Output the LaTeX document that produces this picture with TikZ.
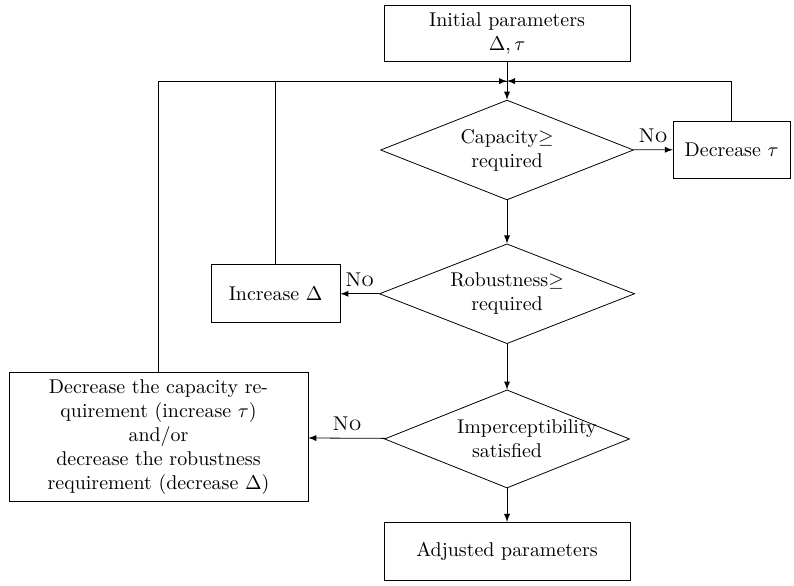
\documentclass[tikz,border=0pt]{standalone}
\usepackage{amsmath}
\usepackage{amssymb}
\usepackage{tikz}
\usetikzlibrary{shapes.geometric}

\begin{document}
\begin{tikzpicture}[
    box/.style={draw, align=center, inner sep=2pt},
    test/.style={draw, diamond, aspect=2.5, inner sep=0pt},
    flow/.style={-latex}
  ]
  \useasboundingbox (0,0) rectangle (14.0,-10.315);
  % main chain
  \node[box, minimum width=4.34cm, minimum height=1.0cm] (init) at (8.94,-0.59) {Initial parameters\\ $\Delta,\tau$};
  \node[test, minimum width=4.46cm, minimum height=1.76cm,
    label={[align=center]center:Capacity$\geq$\\ required}] (capok) at (8.94,-2.645) {};
  \node[test, minimum width=4.50cm, minimum height=1.76cm,
    label={[align=center]center:Robustness$\geq$\\ required}] (robok) at (8.94,-5.18) {};
  \node[test, minimum width=4.32cm, minimum height=1.73cm,
    label={[align=center, text width=1.76cm]center:Imperceptibility\\ satisfied}] (impok) at (8.94,-7.74) {};
  \node[box, minimum width=4.34cm, minimum height=1.02cm] (adjusted) at (8.94,-9.72) {Adjusted parameters};
  % corrections
  \node[box, minimum width=2.06cm, minimum height=1.0cm] (dectau) at (12.90,-2.64) {Decrease $\tau$};
  \node[box, minimum width=2.27cm, minimum height=1.02cm] (incdelta) at (4.86,-5.18) {Increase $\Delta$};
  \node[box, minimum width=5.27cm, minimum height=2.27cm] (relax) at (2.795,-7.71) {Decrease the capacity re-\\ quirement (increase $\tau$)\\ and/or\\ decrease the robustness\\ requirement (decrease $\Delta$)};
  \coordinate (join) at (8.94,-1.43);

  \draw[flow] (init) -- (capok);
  \draw[flow] (capok) -- (robok);
  \draw[flow] (robok) -- (impok);
  \draw[flow] (impok) -- (adjusted);
  \draw[flow] (capok) -- node[above] {\textsc{No}} (dectau);
  \draw[flow] (robok) -- node[above] {\textsc{No}} (incdelta);
  \draw[flow] (impok) -- node[above] {\textsc{No}} (relax);
  % loops back to the top
  \draw[flow] (dectau.north) |- (join);
  \draw (incdelta.north) |- (join);
  \draw[flow] (relax.north) |- (join);
\end{tikzpicture}
\end{document}
